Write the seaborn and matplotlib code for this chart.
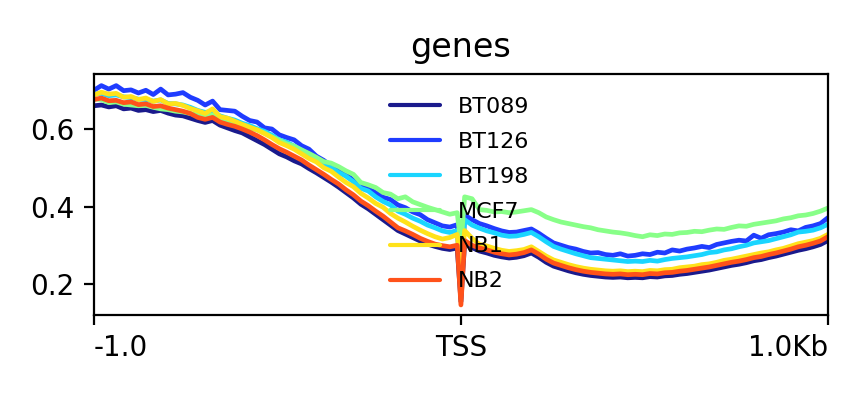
import matplotlib
matplotlib.use("Agg")
import matplotlib.pyplot as plt
import seaborn as sns
import pandas as pd

# bin positions (10 bp bins, -1 kb .. +1 kb, TSS at bin 99)
bins = list(range(0, 99, 2)) + [99] + list(range(100, 199, 2))

samples = ["BT089", "BT126", "BT198", "MCF7", "NB1", "NB2"]
colors = ["#1a1a8c", "#1f3cff", "#1ad5ff", "#88ff88", "#ffe21a", "#ff521a"]
tick_labels = ["-1.0", "TSS", "1.0Kb"]
title = "genes"

BT089 = [0.660, 0.662, 0.657, 0.660, 0.652, 0.654, 0.648, 0.650, 0.645, 0.648,
         0.641, 0.636, 0.634, 0.628, 0.622, 0.617, 0.622, 0.610, 0.603, 0.596,
         0.590, 0.580, 0.570, 0.560, 0.548, 0.536, 0.528, 0.518, 0.510, 0.498,
         0.487, 0.475, 0.463, 0.450, 0.436, 0.422, 0.406, 0.394, 0.380, 0.366,
         0.352, 0.338, 0.329, 0.320, 0.311, 0.303, 0.297, 0.292, 0.289, 0.293,
         0.155,
         0.306, 0.294, 0.285, 0.280, 0.274, 0.270, 0.267, 0.269, 0.273, 0.280,
         0.269, 0.256, 0.246, 0.240, 0.234, 0.229, 0.225, 0.222, 0.220, 0.218,
         0.217, 0.218, 0.216, 0.217, 0.216, 0.219, 0.218, 0.221, 0.222, 0.225,
         0.227, 0.230, 0.233, 0.236, 0.240, 0.244, 0.248, 0.251, 0.255, 0.260,
         0.263, 0.268, 0.272, 0.277, 0.282, 0.287, 0.291, 0.296, 0.302, 0.312]

BT126 = [0.700, 0.712, 0.703, 0.712, 0.699, 0.701, 0.693, 0.700, 0.689, 0.703,
         0.688, 0.690, 0.694, 0.682, 0.674, 0.662, 0.672, 0.650, 0.648, 0.646,
         0.633, 0.622, 0.618, 0.603, 0.600, 0.585, 0.578, 0.572, 0.557, 0.548,
         0.530, 0.519, 0.505, 0.497, 0.482, 0.468, 0.455, 0.446, 0.436, 0.424,
         0.418, 0.404, 0.397, 0.386, 0.379, 0.366, 0.358, 0.350, 0.347, 0.353,
         0.195,
         0.378, 0.366, 0.356, 0.350, 0.343, 0.337, 0.333, 0.334, 0.338, 0.342,
         0.331, 0.318, 0.306, 0.300, 0.294, 0.290, 0.284, 0.280, 0.281, 0.276,
         0.274, 0.278, 0.272, 0.274, 0.278, 0.276, 0.282, 0.280, 0.288, 0.285,
         0.290, 0.293, 0.297, 0.294, 0.302, 0.306, 0.310, 0.313, 0.311, 0.326,
         0.318, 0.327, 0.330, 0.334, 0.340, 0.337, 0.346, 0.350, 0.356, 0.371]

BT198 = [0.690, 0.692, 0.686, 0.688, 0.683, 0.681, 0.677, 0.676, 0.672, 0.675,
         0.666, 0.665, 0.662, 0.656, 0.648, 0.643, 0.645, 0.634, 0.628, 0.623,
         0.615, 0.609, 0.601, 0.594, 0.584, 0.572, 0.566, 0.556, 0.546, 0.535,
         0.524, 0.510, 0.500, 0.488, 0.478, 0.464, 0.447, 0.440, 0.425, 0.413,
         0.404, 0.388, 0.380, 0.370, 0.362, 0.352, 0.345, 0.337, 0.333, 0.338,
         0.210,
         0.366, 0.352, 0.344, 0.337, 0.332, 0.326, 0.323, 0.324, 0.328, 0.333,
         0.322, 0.309, 0.297, 0.290, 0.284, 0.278, 0.273, 0.268, 0.266, 0.264,
         0.262, 0.260, 0.258, 0.259, 0.258, 0.261, 0.259, 0.263, 0.266, 0.268,
         0.270, 0.273, 0.276, 0.281, 0.283, 0.288, 0.291, 0.296, 0.300, 0.306,
         0.309, 0.312, 0.317, 0.322, 0.327, 0.334, 0.336, 0.339, 0.345, 0.354]

MCF7 = [0.678, 0.676, 0.668, 0.670, 0.664, 0.662, 0.660, 0.661, 0.656, 0.652,
        0.650, 0.646, 0.644, 0.640, 0.636, 0.632, 0.636, 0.627, 0.621, 0.615,
        0.610, 0.602, 0.598, 0.590, 0.580, 0.571, 0.562, 0.556, 0.546, 0.537,
        0.527, 0.516, 0.512, 0.503, 0.492, 0.483, 0.462, 0.456, 0.449, 0.436,
        0.432, 0.420, 0.425, 0.412, 0.405, 0.398, 0.392, 0.386, 0.380, 0.384,
        0.300,
        0.425, 0.420, 0.392, 0.390, 0.386, 0.387, 0.384, 0.386, 0.389, 0.392,
        0.384, 0.373, 0.366, 0.360, 0.356, 0.352, 0.348, 0.345, 0.340, 0.337,
        0.334, 0.332, 0.329, 0.325, 0.322, 0.327, 0.325, 0.329, 0.328, 0.332,
        0.333, 0.336, 0.335, 0.339, 0.342, 0.341, 0.346, 0.350, 0.349, 0.354,
        0.357, 0.360, 0.363, 0.368, 0.371, 0.376, 0.378, 0.382, 0.388, 0.396]

NB1 = [0.688, 0.695, 0.690, 0.692, 0.682, 0.684, 0.676, 0.680, 0.671, 0.676,
       0.665, 0.666, 0.661, 0.653, 0.647, 0.640, 0.652, 0.632, 0.628, 0.620,
       0.612, 0.605, 0.598, 0.588, 0.578, 0.565, 0.557, 0.548, 0.536, 0.524,
       0.515, 0.500, 0.491, 0.476, 0.462, 0.451, 0.434, 0.422, 0.408, 0.398,
       0.382, 0.370, 0.360, 0.349, 0.339, 0.330, 0.322, 0.316, 0.320, 0.328,
       0.220,
       0.338, 0.318, 0.302, 0.298, 0.292, 0.287, 0.284, 0.286, 0.289, 0.296,
       0.284, 0.272, 0.262, 0.256, 0.250, 0.245, 0.241, 0.238, 0.236, 0.234,
       0.233, 0.234, 0.232, 0.233, 0.232, 0.235, 0.234, 0.237, 0.238, 0.242,
       0.244, 0.246, 0.250, 0.252, 0.256, 0.261, 0.264, 0.268, 0.272, 0.276,
       0.280, 0.283, 0.288, 0.292, 0.298, 0.304, 0.308, 0.312, 0.318, 0.328]

NB2 = [0.676, 0.680, 0.673, 0.674, 0.668, 0.670, 0.663, 0.665, 0.658, 0.660,
       0.654, 0.650, 0.646, 0.640, 0.630, 0.625, 0.630, 0.618, 0.612, 0.607,
       0.600, 0.592, 0.583, 0.572, 0.560, 0.549, 0.540, 0.530, 0.520, 0.507,
       0.495, 0.483, 0.470, 0.458, 0.443, 0.430, 0.414, 0.402, 0.388, 0.375,
       0.360, 0.345, 0.337, 0.328, 0.318, 0.310, 0.303, 0.299, 0.296, 0.300,
       0.146,
       0.312, 0.300, 0.293, 0.288, 0.282, 0.278, 0.275, 0.277, 0.281, 0.288,
       0.277, 0.264, 0.254, 0.248, 0.242, 0.237, 0.233, 0.230, 0.228, 0.226,
       0.225, 0.226, 0.224, 0.225, 0.224, 0.227, 0.226, 0.229, 0.230, 0.233,
       0.235, 0.238, 0.241, 0.244, 0.248, 0.252, 0.256, 0.259, 0.263, 0.268,
       0.271, 0.276, 0.280, 0.285, 0.290, 0.296, 0.300, 0.305, 0.311, 0.322]

series = {"BT089": BT089, "BT126": BT126, "BT198": BT198,
          "MCF7": MCF7, "NB1": NB1, "NB2": NB2}

rows = []
for name in samples:
    for b, v in zip(bins, series[name]):
        rows.append({"bin": b, "value": v, "sample": name})
df = pd.DataFrame(rows)

sns.set_style("ticks")
plt.rcParams["font.family"] = ["DejaVu Sans"]
plt.rcParams["text.color"] = "black"

fig = plt.figure(figsize=(4.33, 1.965), dpi=200)
ax = fig.add_axes([0.1085, 0.1985, 0.8475, 0.6132])

sns.lineplot(data=df, x="bin", y="value", hue="sample", hue_order=samples,
             palette=colors, estimator=None, linewidth=1.7, ax=ax, legend=False)

ax.set_xlim(0, 198)
ax.set_ylim(0.12, 0.742)
ax.set_xticks([0, 99, 198])
ax.set_xticklabels(tick_labels)
xt = ax.get_xticklabels()
xt[0].set_horizontalalignment("left")
xt[-1].set_horizontalalignment("right")
ax.set_yticks([0.2, 0.4, 0.6])
ax.set_yticklabels(["0.2", "0.4", "0.6"])
ax.tick_params(labelsize=10, width=0.8, length=3.5, colors="black")
ax.set_xlabel("")
ax.set_ylabel("")
ax.set_title(title, fontsize=12, pad=6, color="black")
for s in ax.spines.values():
    s.set_visible(True)
    s.set_color("black")
    s.set_linewidth(0.8)

handles = [plt.Line2D([], [], color=c, lw=1.5) for c in colors]
leg = ax.legend(handles, samples, loc="upper left", bbox_to_anchor=(0.391, 0.942),
                borderaxespad=0, frameon=False, fontsize=8, handlelength=2.25,
                labelspacing=0.67)
for t in leg.get_texts():
    t.set_color("black")

fig.savefig("out.png", dpi=200)
